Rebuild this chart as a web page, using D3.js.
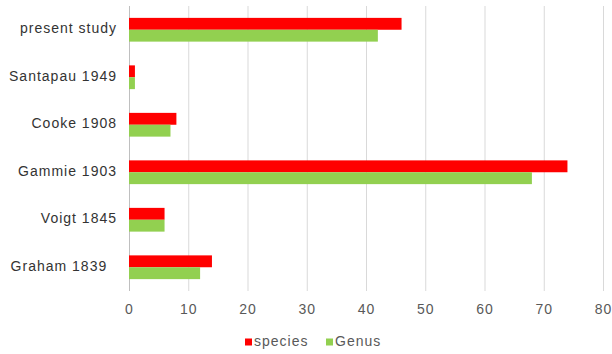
<!DOCTYPE html>
<html>
<head>
<meta charset="utf-8">
<script src="https://cdn.jsdelivr.net/npm/d3@7"></script>
<style>
  html, body { margin: 0; padding: 0; background: #fff; }
  svg { display: block; font-family: "Liberation Sans", Arial, sans-serif; }
  svg text { white-space: pre; }
</style>
</head>
<body>
<svg id="chart" width="612" height="354"></svg>
<script>
// Works listed from top to bottom of the chart
const categories = ["present study", "Santapau 1949", "Cooke 1908", "Gammie 1903", "Voigt 1845", "Graham 1839  "];
const seriesNames = ["species", "Genus"];
const speciesValues = [46, 1, 8, 74, 6, 14];
const genusValues = [42, 1, 7, 68, 6, 12];
const xTicks = [0, 10, 20, 30, 40, 50, 60, 70, 80];
const seriesColors = ["#ff0000", "#92d050"];

(function draw() {
  const rows = categories.map((c, i) => ({
    category: c,
    values: [speciesValues[i], genusValues[i]]
  }));

  const svg = d3.select("#chart");
  const plotLeft = 129, plotRight = 603, plotTop = 6, plotBottom = 291;

  const x = d3.scaleLinear().domain([0, 80]).range([plotLeft, plotRight]);
  const y = d3.scaleBand().domain(categories).range([plotTop, plotBottom])
    .paddingInner(0.5).paddingOuter(0.25);
  const ySub = d3.scaleBand().domain(seriesNames).range([0, y.bandwidth()]);

  // vertical gridlines
  svg.append("g")
    .selectAll("line")
    .data(xTicks)
    .join("line")
    .attr("x1", d => x(d) + 0.5).attr("x2", d => x(d) + 0.5)
    .attr("y1", plotTop).attr("y2", plotBottom)
    .attr("stroke", d => d === 0 ? "#bfbfbf" : "#d9d9d9")
    .attr("stroke-width", 1);

  // bars
  const groups = svg.append("g")
    .selectAll("g")
    .data(rows)
    .join("g")
    .attr("transform", d => `translate(0,${y(d.category)})`);

  groups.selectAll("rect")
    .data(d => d.values.map((v, j) => ({ name: seriesNames[j], value: v, j })))
    .join("rect")
    .attr("x", x(0))
    .attr("y", d => ySub(d.name))
    .attr("width", d => x(d.value) - x(0))
    .attr("height", ySub.bandwidth())
    .attr("fill", d => seriesColors[d.j]);

  // x axis labels
  const xAxis = d3.axisBottom(x).tickValues(xTicks).tickSize(0).tickPadding(0);
  const gx = svg.append("g")
    .attr("transform", `translate(0,${plotBottom})`)
    .call(xAxis);
  gx.select(".domain").remove();
  gx.selectAll("text")
    .attr("dy", null)
    .attr("y", 19)
    .attr("dominant-baseline", "middle")
    .attr("fill", "#595959")
    .attr("font-size", 14)
    .attr("letter-spacing", 1)
    .attr("font-family", "Liberation Sans, Arial, sans-serif");

  // category labels
  const yAxis = d3.axisLeft(y).tickSize(0).tickPadding(0);
  const gy = svg.append("g")
    .attr("transform", `translate(${plotLeft - 12},0)`)
    .call(yAxis);
  gy.select(".domain").remove();
  gy.selectAll("text")
    .attr("dy", null)
    .attr("dominant-baseline", "middle")
    .attr("fill", "#333333")
    .attr("font-size", 14)
    .attr("letter-spacing", 1)
    .attr("font-family", "Liberation Sans, Arial, sans-serif");

  // legend
  const legendX = [245, 326];
  const legend = svg.append("g")
    .selectAll("g")
    .data(seriesNames)
    .join("g")
    .attr("transform", (d, i) => `translate(${legendX[i]},342)`);
  legend.append("rect")
    .attr("x", 0).attr("y", -3.5)
    .attr("width", 7).attr("height", 7)
    .attr("fill", (d, i) => seriesColors[i]);
  legend.append("text")
    .attr("x", 9)
    .attr("dominant-baseline", "middle")
    .attr("fill", "#595959")
    .attr("font-size", 14)
    .attr("letter-spacing", 1)
    .text(d => d);
})();
</script>
</body>
</html>
